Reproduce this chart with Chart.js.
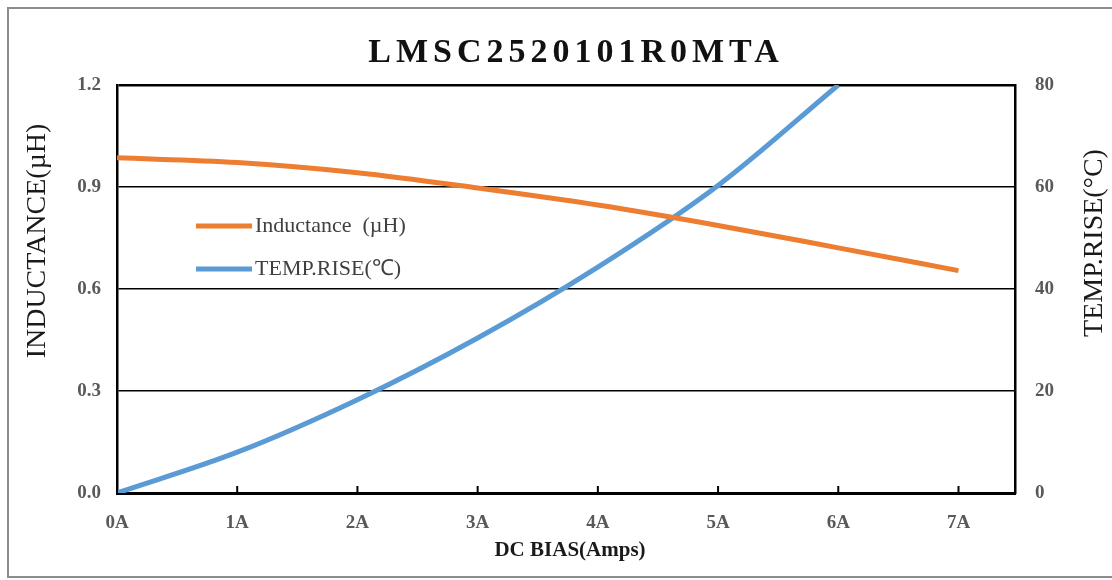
<!DOCTYPE html>
<html>
<head>
<meta charset="utf-8">
<script src="https://cdn.jsdelivr.net/npm/chart.js@4"></script>
<style>
  html, body { margin: 0; padding: 0; background: #fff; }
  #wrap { position: relative; width: 1112px; height: 580px; overflow: hidden; }
  #frame { position: absolute; left: 7px; top: 7px; width: 1120px; height: 567px; border: 2px solid #8c8c8c; pointer-events: none; }
</style>
</head>
<body>
<div id="wrap">
  <canvas id="chart" width="1112" height="580"></canvas>
  <div id="frame"></div>
</div>
<script>
// data
const titleText = 'LMSC2520101R0MTA';
const seriesNames = ['Inductance  (\u00b5H)', 'TEMP.RISE(\u2103)'];
const currentA = [0, 1, 2, 3, 4, 5, 6, 7];
const inductance = [0.986, 0.972, 0.942, 0.897, 0.847, 0.787, 0.721, 0.654];
const tempCurrentA = [0, 1, 2, 3, 4, 5, 6];
const tempRise = [0, 8.0, 18.3, 30.4, 44.3, 60.3, 80];
const leftTicks = [0, 0.3, 0.6, 0.9, 1.2];
const rightTicks = [0, 20, 40, 60, 80];

const ORANGE = '#ed7d31';
const BLUE = '#5b9bd5';
const SERIF = '"Liberation Serif", "Times New Roman", serif';

// titles, legend and inner tick marks drawn on top of the chart
const decorations = {
    id: 'decorations',
    afterDraw(chart) {
        const ctx = chart.ctx;
        const area = chart.chartArea;
        const x = chart.scales.x;

        // inner tick marks on the x axis
        ctx.save();
        ctx.strokeStyle = '#000';
        ctx.lineWidth = 2;
        currentA.forEach(v => {
            const px = x.getPixelForValue(v);
            ctx.beginPath();
            ctx.moveTo(px, area.bottom);
            ctx.lineTo(px, area.bottom - 7);
            ctx.stroke();
        });
        ctx.restore();

        // chart title
        ctx.save();
        ctx.fillStyle = '#111';
        ctx.font = 'bold 34px ' + SERIF;
        if ('letterSpacing' in ctx) ctx.letterSpacing = '5px';
        ctx.textAlign = 'center';
        ctx.textBaseline = 'alphabetic';
        ctx.fillText(titleText, 576, 62);
        ctx.restore();

        // axis titles
        ctx.save();
        ctx.fillStyle = '#1a1a1a';
        ctx.textAlign = 'center';
        ctx.textBaseline = 'middle';
        ctx.font = 'bold 21px ' + SERIF;
        ctx.fillText('DC BIAS(Amps)', 570, 551);
        ctx.font = '28px ' + SERIF;
        ctx.translate(38, 241);
        ctx.rotate(-Math.PI / 2);
        ctx.fillText('INDUCTANCE(\u00b5H)', 0, 0);
        ctx.restore();

        ctx.save();
        ctx.fillStyle = '#1a1a1a';
        ctx.textAlign = 'center';
        ctx.textBaseline = 'middle';
        ctx.font = '28px ' + SERIF;
        ctx.translate(1095, 243);
        ctx.rotate(-Math.PI / 2);
        ctx.fillText('TEMP.RISE(\u00b0C)', 0, 0);
        ctx.restore();

        // legend inside the plot
        const rows = [[seriesNames[0], ORANGE, 226], [seriesNames[1], BLUE, 269]];
        ctx.save();
        rows.forEach(([label, color, y]) => {
            ctx.strokeStyle = color;
            ctx.lineWidth = 5;
            ctx.beginPath();
            ctx.moveTo(196, y);
            ctx.lineTo(252, y);
            ctx.stroke();
            ctx.fillStyle = '#404040';
            ctx.font = '22px ' + SERIF;
            ctx.textAlign = 'left';
            ctx.textBaseline = 'middle';
            ctx.fillText(label, 255, y);
        });
        ctx.restore();
    }
};

const tickFont = { family: SERIF, size: 19, weight: 'bold' };

new Chart(document.getElementById('chart'), {
    type: 'line',
    data: {
        datasets: [
            {
                label: seriesNames[0],
                data: currentA.map((v, i) => ({ x: v, y: inductance[i] })),
                borderColor: ORANGE,
                borderWidth: 5,
                pointRadius: 0,
                cubicInterpolationMode: 'monotone',
                yAxisID: 'y'
            },
            {
                label: seriesNames[1],
                data: tempCurrentA.map((v, i) => ({ x: v, y: tempRise[i] })),
                borderColor: BLUE,
                borderWidth: 5,
                pointRadius: 0,
                cubicInterpolationMode: 'monotone',
                yAxisID: 'y2'
            }
        ]
    },
    options: {
        responsive: false,
        animation: false,
        layout: { padding: { top: 85, left: 0, right: 0, bottom: 0 } },
        plugins: {
            legend: { display: false },
            title: { display: false },
            tooltip: { enabled: false }
        },
        scales: {
            x: {
                type: 'linear',
                min: 0,
                max: 7.47,
                afterFit: s => { s.height = 87; },
                afterBuildTicks: s => { s.ticks = currentA.map(v => ({ value: v })); },
                ticks: {
                    color: '#595959',
                    font: tickFont,
                    padding: 19,
                    callback: v => v + 'A'
                },
                grid: { display: false, drawTicks: false },
                border: { color: '#000', width: 3 }
            },
            y: {
                position: 'left',
                min: 0,
                max: 1.2,
                afterFit: s => { s.width = 117; },
                afterBuildTicks: s => { s.ticks = leftTicks.map(v => ({ value: v })); },
                ticks: {
                    color: '#595959',
                    font: tickFont,
                    padding: 16,
                    callback: v => v.toFixed(1)
                },
                grid: {
                    color: '#000',
                    lineWidth: c => (c.tick && c.tick.value === 1.2 ? 2.5 : 1.5),
                    drawTicks: false
                },
                border: { color: '#000', width: 2.5 }
            },
            y2: {
                position: 'right',
                min: 0,
                max: 80,
                afterFit: s => { s.width = 1112 - 1015; },
                afterBuildTicks: s => { s.ticks = rightTicks.map(v => ({ value: v })); },
                ticks: {
                    color: '#595959',
                    font: tickFont,
                    padding: 20
                },
                grid: { display: false, drawTicks: false },
                border: { color: '#000', width: 2.5 }
            }
        }
    },
    plugins: [decorations]
});
</script>
</body>
</html>
